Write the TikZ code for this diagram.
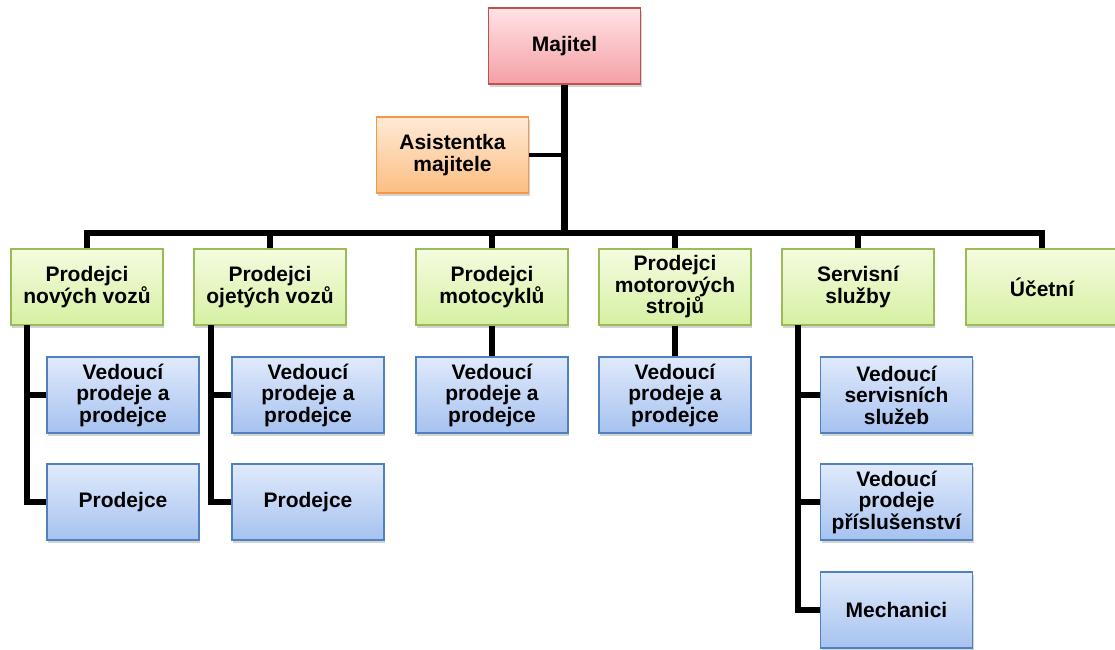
\documentclass[tikz,border=0pt]{standalone}
\usepackage{fontspec}
\setmainfont{Liberation Sans}
\usetikzlibrary{shadows}
\definecolor{redb}{HTML}{C0504D}
\definecolor{redt}{HTML}{FFE2E5}
\definecolor{redd}{HTML}{F4A0A6}
\definecolor{orab}{HTML}{F79646}
\definecolor{orat}{HTML}{FFEAD6}
\definecolor{orad}{HTML}{FBBE82}
\definecolor{grnb}{HTML}{9BBB59}
\definecolor{grnt}{HTML}{F5FCE0}
\definecolor{grnd}{HTML}{D6F0A2}
\definecolor{blub}{HTML}{4F81BD}
\definecolor{blut}{HTML}{E0EAFB}
\definecolor{blud}{HTML}{A6C2F0}
\tikzset{
  box/.style={rectangle, minimum width=152pt, minimum height=76pt, inner sep=2pt,
    line width=1.2pt, align=center,
    font=\fontsize{21}{21.5}\selectfont\bfseries,
    drop shadow={opacity=0.35, shadow xshift=1pt, shadow yshift=-2.5pt}},
  redbox/.style={box, draw=redb, top color=redt, bottom color=redd},
  orabox/.style={box, draw=orab, top color=orat, bottom color=orad},
  grnbox/.style={box, draw=grnb, top color=grnt, bottom color=grnd},
  blubox/.style={box, draw=blub, top color=blut, bottom color=blud},
  conn/.style={line width=6.5pt, black, line join=miter},
  thinconn/.style={line width=4.5pt, black}
}
\begin{document}
\begin{tikzpicture}[x=1pt,y=-1pt]
\useasboundingbox (0,0) rectangle (1115,649);
\coordinate (bus) at (564.5,233);
\coordinate (k1) at (27,325);
\coordinate (k2) at (211,325);
\coordinate (k5) at (798,325);
% nodes
\node[redbox] (maj) at (564.5,46) {Majitel};
\node[orabox] (asi) at (452.5,155) {Asistentka\\majitele};
\node[grnbox] (g1) at (87,287) {Prodejci\\nových vozů};
\node[grnbox] (g2) at (270,287) {Prodejci\\ojetých vozů};
\node[grnbox] (g3) at (492,287) {Prodejci\\motocyklů};
\node[grnbox] (g4) at (675,287) {Prodejci\\motorových\\strojů};
\node[grnbox] (g5) at (858,287) {Servisní\\služby};
\node[grnbox] (g6) at (1042,287) {Účetní};
\node[blubox] (b11) at (123,395) {Vedoucí\\prodeje a\\prodejce};
\node[blubox] (b12) at (123,502) {Prodejce};
\node[blubox] (b21) at (308,395) {Vedoucí\\prodeje a\\prodejce};
\node[blubox] (b22) at (308,502) {Prodejce};
\node[blubox] (b31) at (492,395) {Vedoucí\\prodeje a\\prodejce};
\node[blubox] (b41) at (675,395) {Vedoucí\\prodeje a\\prodejce};
\node[blubox] (b51) at (896.5,395) {Vedoucí\\servisních\\služeb};
\node[blubox] (b52) at (896.5,502) {Vedoucí\\prodeje\\příslušenství};
\node[blubox] (b53) at (896.5,610) {Mechanici};
% connectors
\draw[conn] (maj.south) -- (bus);
\draw[thinconn] (asi.east) -- (asi.east -| maj.south);
\draw[conn] (g1.north) -- (g1.north |- bus) -- (g6.north |- bus) -- (g6.north);
\draw[conn] (g2.north) -- (g2.north |- bus);
\draw[conn] (g3.north) -- (g3.north |- bus);
\draw[conn] (g4.north) -- (g4.north |- bus);
\draw[conn] (g5.north) -- (g5.north |- bus);
\draw[conn] (k1) |- (b12.west);
\draw[conn] (k1 |- b11.west) -- (b11.west);
\draw[conn] (k2) |- (b22.west);
\draw[conn] (k2 |- b21.west) -- (b21.west);
\draw[conn] (g3.south) -- (b31.north);
\draw[conn] (g4.south) -- (b41.north);
\draw[conn] (k5) |- (b53.west);
\draw[conn] (k5 |- b51.west) -- (b51.west);
\draw[conn] (k5 |- b52.west) -- (b52.west);
\end{tikzpicture}
\end{document}
